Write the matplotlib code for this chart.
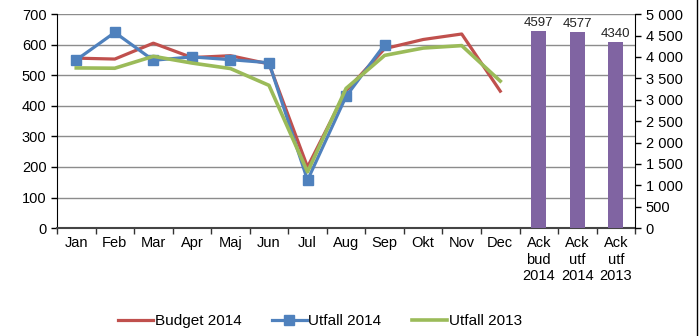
import numpy as np
import matplotlib
matplotlib.use("Agg")
import matplotlib.pyplot as plt
from matplotlib.lines import Line2D
from matplotlib.ticker import FuncFormatter

plt.rcParams['font.family'] = ['Liberation Sans', 'DejaVu Sans']

months = ['Jan', 'Feb', 'Mar', 'Apr', 'Maj', 'Jun', 'Jul', 'Aug', 'Sep', 'Okt', 'Nov', 'Dec']
ack_labels = ['Ack\nbud\n2014', 'Ack\nutf\n2014', 'Ack\nutf\n2013']

budget_2014 = [556, 553, 605, 558, 564, 537, 200, 449, 587, 617, 635, 448]
utfall_2014 = [550, 640, 549, 560, 551, 541, 157, 431, 600]
utfall_2013 = [524, 523, 562, 540, 522, 467, 184, 457, 565, 589, 597, 481]
ack_values = [4597, 4577, 4340]

red = '#C0504D'
blue = '#4F81BD'
green = '#9BBB59'
purple = '#8064A2'

fig = plt.figure(figsize=(7, 3.36), dpi=100)
ax = fig.add_axes([0.0814, 0.321, 0.826, 0.637])
ax2 = ax.twinx()

x = np.arange(len(months))
ax.plot(x, budget_2014, color=red, lw=2.3, label='Budget 2014', zorder=3)
ax.plot(x[:len(utfall_2014)], utfall_2014, color=blue, lw=2.3, marker='s',
        markersize=7, label='Utfall 2014', zorder=4)
ax.plot(x, utfall_2013, color=green, lw=2.6, label='Utfall 2013', zorder=5)

xb = np.arange(len(months), len(months) + len(ack_values))
bars = ax2.bar(xb, ack_values, width=0.39, color=purple)
for xi, v in zip(xb, ack_values):
    ax2.text(xi, v + 60, str(v), ha='center', va='bottom', fontsize=9.5, color='#222222')

ax.set_xlim(-0.5, 14.5)
ax.set_ylim(0, 700)
ax.set_yticks(range(0, 701, 100))
ax2.set_ylim(0, 5000)
ax2.set_yticks(range(0, 5001, 500))
ax2.yaxis.set_major_formatter(FuncFormatter(lambda v, p: f'{int(v):,}'.replace(',', ' ')))

ax.set_xticks(np.arange(15))
ax.set_xticklabels(months + ack_labels)
ax.set_xticks(np.arange(-0.5, 15, 1), minor=True)
ax.tick_params(axis='x', which='major', length=0, pad=6, labelsize=10.5)
ax.tick_params(axis='x', which='minor', length=4, width=1, color='#333333', direction='out')
ax.tick_params(axis='y', length=4, width=1, labelsize=10.5)
ax2.tick_params(axis='y', length=4, width=1, labelsize=10.5)

ax.grid(axis='y', color='#8c8c8c', lw=1)
ax.set_axisbelow(True)
for a in (ax, ax2):
    a.spines['top'].set_visible(False)
ax.spines['left'].set_color('black')
ax2.spines['right'].set_color('black')
ax.spines['bottom'].set_color('#444444')
ax.spines['bottom'].set_linewidth(1.5)
ax2.spines['bottom'].set_visible(False)
ax2.spines['left'].set_visible(False)
ax.spines['right'].set_visible(False)

fig.legend(*ax.get_legend_handles_labels(), loc='center', bbox_to_anchor=(0.457, 0.045),
           ncol=3, frameon=False, fontsize=11, handlelength=2.3, handletextpad=0.1,
           columnspacing=2.0)

fig.add_artist(Line2D([0.996, 0.996], [0, 1], transform=fig.transFigure, color='black', lw=1))

fig.savefig('out.png', dpi=100)
